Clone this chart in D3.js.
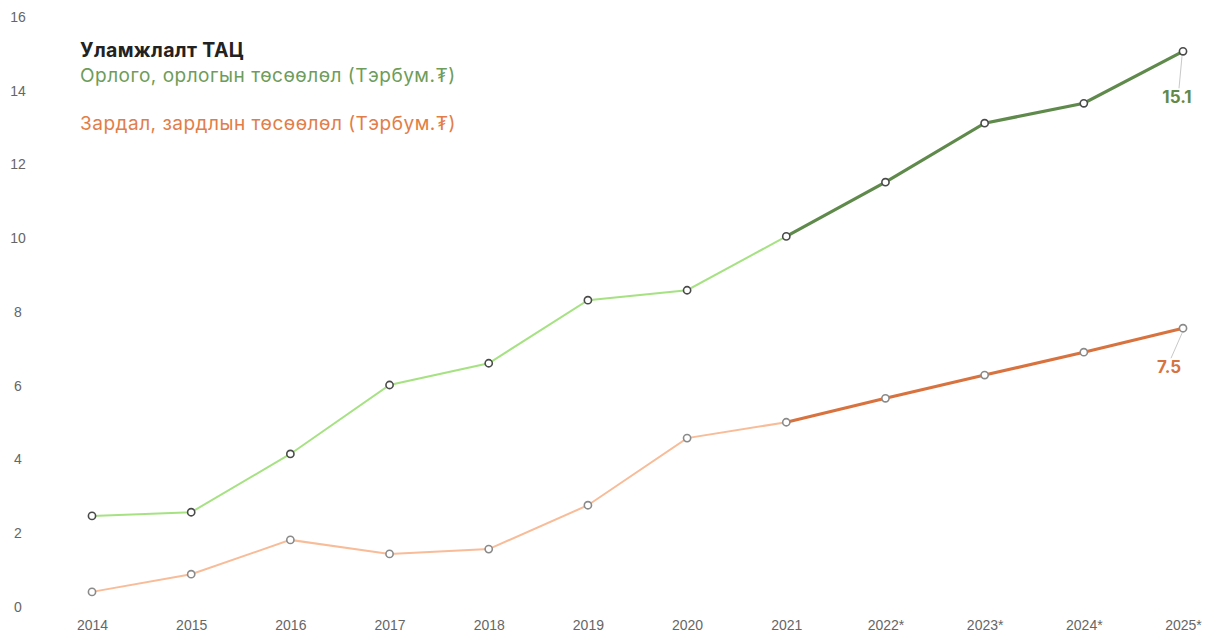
<!DOCTYPE html>
<html>
<head>
<meta charset="utf-8">
<script src="https://cdn.jsdelivr.net/npm/d3@7"></script>
<style>
  body { margin: 0; background: #fff; }
  svg { font-family: "Inter", "Noto Sans", sans-serif; }
</style>
</head>
<body>
<svg id="chart" width="1222" height="637"></svg>
<script>
// data
let years = ["2014", "2015", "2016", "2017", "2018", "2019", "2020", "2021", "2022*", "2023*", "2024*", "2025*"];
let income = [2.47, 2.57, 4.15, 6.02, 6.61, 8.32, 8.59, 10.05, 11.52, 13.12, 13.66, 15.07];
let expense = [0.41, 0.89, 1.82, 1.44, 1.57, 2.76, 4.58, 5.01, 5.66, 6.29, 6.91, 7.56];
let yTicks = [0, 2, 4, 6, 8, 10, 12, 14, 16];
let forecastFrom = 7; //index of 2021, projection starts here

let svg = d3.select("#chart");

let dims = { top: 17, bottom: 30, left: 92, right: 39 };
let width = 1222;
let height = 637;

let xScale = d3.scalePoint().domain(years).range([dims.left, width - dims.right]);
let yScale = d3.scaleLinear().domain([0, 16]).range([height - dims.bottom, dims.top]);

let colors = {
  incomeOld: "#a6e283",
  incomeNew: "#5f8a4c",
  expenseOld: "#f8bc98",
  expenseNew: "#d8733f",
};

// y axis labels
svg.append("g")
  .attr("transform", "translate(18,0)")
  .call(d3.axisLeft(yScale).tickValues(yTicks).tickSize(0).tickPadding(0))
  .call((g) => g.select(".domain").remove())
  .selectAll("text")
  .attr("text-anchor", "middle")
  .attr("fill", "#666")
  .style("font-size", "14px");

// x axis labels
svg.append("g")
  .attr("transform", "translate(0," + (height - 17) + ")")
  .call(d3.axisBottom(xScale).tickSize(0).tickPadding(0))
  .call((g) => g.select(".domain").remove())
  .selectAll("text")
  .attr("fill", "#666")
  .style("font-size", "14px");

let line = d3.line().x((d) => xScale(d.year)).y((d) => yScale(d.value));

function drawSeries(values, oldColor, newColor, markerStroke) {
  let pts = values.map((v, i) => ({ year: years[i], value: v }));
  svg.append("path")
    .datum(pts.slice(0, forecastFrom + 1))
    .attr("d", line)
    .attr("fill", "none")
    .attr("stroke", oldColor)
    .attr("stroke-width", 2);
  svg.append("path")
    .datum(pts.slice(forecastFrom))
    .attr("d", line)
    .attr("fill", "none")
    .attr("stroke", newColor)
    .attr("stroke-width", 3.2);
  svg.append("g")
    .selectAll("circle")
    .data(pts)
    .enter()
    .append("circle")
    .attr("cx", (d) => xScale(d.year))
    .attr("cy", (d) => yScale(d.value))
    .attr("r", 3.6)
    .attr("fill", "#fff")
    .attr("stroke", markerStroke)
    .attr("stroke-width", 1.6);
  return pts[pts.length - 1];
}

let lastIncome = drawSeries(income, colors.incomeOld, colors.incomeNew, "#4a4a4a");
let lastExpense = drawSeries(expense, colors.expenseOld, colors.expenseNew, "#8a8a8a");

// end labels with leader lines
function endLabel(p, text, color, dx, dy) {
  let x = xScale(p.year), y = yScale(p.value);
  svg.append("line")
    .attr("x1", x - 1).attr("y1", y + 5)
    .attr("x2", x + dx + 2).attr("y2", y + dy - 15)
    .attr("stroke", "#c8c8c8")
    .attr("stroke-width", 1);
  svg.append("text")
    .attr("x", x + dx)
    .attr("y", y + dy)
    .attr("text-anchor", "middle")
    .attr("fill", color)
    .style("font-size", "17px")
    .style("font-weight", "bold")
    .text(text);
}
endLabel(lastIncome, "15.1", colors.incomeNew, -6, 52);
endLabel(lastExpense, "7.5", colors.expenseNew, -14, 45);

// title and legend
svg.append("text")
  .attr("x", 80).attr("y", 57)
  .attr("fill", "#222")
  .style("font-size", "19.5px")
  .style("font-weight", "bold")
  .style("letter-spacing", "0.35px")
  .text("Уламжлалт ТАЦ");
svg.append("text")
  .attr("x", 80).attr("y", 82)
  .attr("fill", "#6e9c59")
  .style("font-size", "19px")
  .style("letter-spacing", "0.5px")
  .text("Орлого, орлогын төсөөлөл (Тэрбум.₮)");
svg.append("text")
  .attr("x", 80).attr("y", 130)
  .attr("fill", "#e27d48")
  .style("font-size", "19px")
  .style("letter-spacing", "0.5px")
  .text("Зардал, зардлын төсөөлөл (Тэрбум.₮)");
</script>
</body>
</html>
